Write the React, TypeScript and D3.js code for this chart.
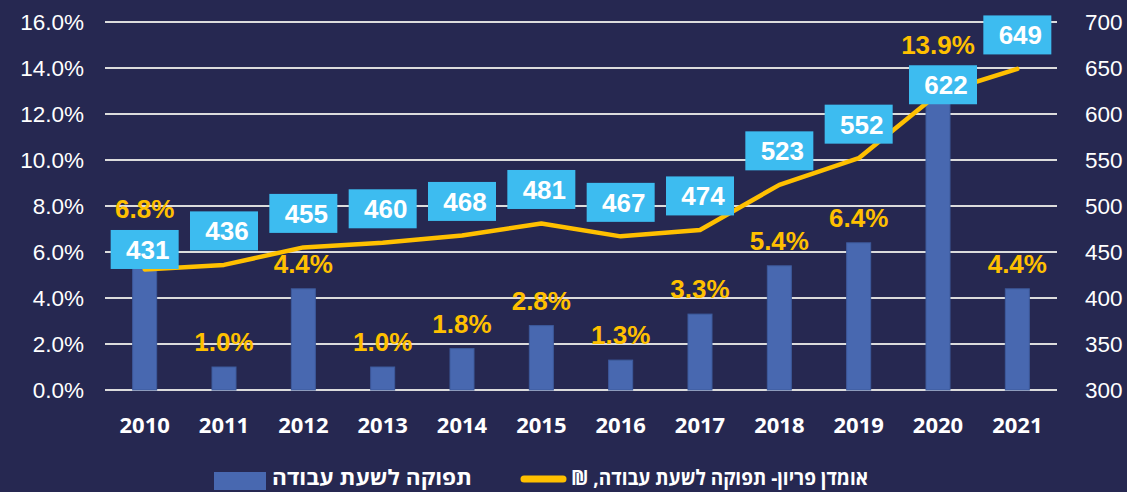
import * as d3 from 'd3';

const years = ['2010', '2011', '2012', '2013', '2014', '2015', '2016', '2017', '2018', '2019', '2020', '2021'];
// growth of output per work hour, %
const growth = [6.8, 1.0, 4.4, 1.0, 1.8, 2.8, 1.3, 3.3, 5.4, 6.4, 13.9, 4.4];
// productivity estimate, ₪ per work hour
const productivity = [431, 436, 455, 460, 468, 481, 467, 474, 523, 552, 622, 649];
const leftTicks = [0, 2, 4, 6, 8, 10, 12, 14, 16];
const rightTicks = [300, 350, 400, 450, 500, 550, 600, 650, 700];
const barLegend = 'תפוקה לשעת עבודה';
const lineLegend = 'אומדן פריון- תפוקה לשעת עבודה, ₪';

const W = 1127;
const H = 492;
const BG = '#262851';
const BAR = '#4868b0';
const GOLD = '#ffc000';
const BOX = '#3dbcf0';

// hand-placed label tweaks from the original
const boxLift: Record<string, number> = { '2010': 20, '2020': 9 };
const boxShift: Record<string, number> = { '2020': 5 };

export default function App() {
  const x = d3.scaleBand().domain(years).range([105, 1057]).padding(0);
  const yL = d3.scaleLinear().domain([0, 16]).range([390, 22]);
  const yR = d3.scaleLinear().domain([300, 700]).range([390, 22]);
  const cx = (d: string) => (x(d) ?? 0) + x.bandwidth() / 2;
  const bw = 24;

  const line = d3
    .line<number>()
    .x((_, i) => cx(years[i]))
    .y((v) => yR(v));

  return (
    <svg width={W} height={H} style={{ position: 'absolute', left: 0, top: 0, display: 'block' }}>
      <rect width={W} height={H} fill={BG} />

      {leftTicks.map((t) => (
        <line key={t} x1={105} x2={1057} y1={yL(t)} y2={yL(t)} stroke="#dcdcdc" strokeWidth={2} />
      ))}

      <g fontFamily="Arial, 'Liberation Sans', sans-serif" fontSize={22.5} fill="#ffffff">
        {leftTicks.map((t) => (
          <text key={t} x={84} y={yL(t)} dy="0.35em" textAnchor="end">
            {d3.format('.1f')(t)}%
          </text>
        ))}
        {rightTicks.map((t) => (
          <text key={t} x={1085} y={yR(t)} dy="0.35em" textAnchor="start">
            {t}
          </text>
        ))}
      </g>

      <g fontFamily="'Open Sans', sans-serif" fontWeight="bold" fontSize={22} fill="#ffffff">
        {years.map((d) => (
          <text key={d} x={cx(d)} y={432.5} textAnchor="middle">
            {d}
          </text>
        ))}
      </g>

      {years.map((d, i) => (
        <rect
          key={d}
          x={cx(d) - bw / 2}
          y={yL(growth[i])}
          width={bw}
          height={yL(0) - yL(growth[i])}
          fill={BAR}
          stroke="#3d5a9c"
          strokeWidth={1}
        />
      ))}

      <path
        d={line(productivity) ?? ''}
        fill="none"
        stroke={GOLD}
        strokeWidth={4.5}
        strokeLinejoin="round"
        strokeLinecap="round"
      />

      <g fontFamily="Arial, 'Liberation Sans', sans-serif" fontWeight="bold" fontSize={26} fill={GOLD}>
        {years.map((d, i) => (
          <text key={d} x={cx(d)} y={yL(growth[i]) - 16} textAnchor="middle">
            {d3.format('.1f')(growth[i])}%
          </text>
        ))}
      </g>

      <g fontFamily="Arial, 'Liberation Sans', sans-serif" fontWeight="bold" fontSize={26} fill="#ffffff">
        {years.map((d, i) => {
          const bx = cx(d) + (boxShift[d] ?? 0);
          const by = yR(productivity[i]) - (boxLift[d] ?? 34);
          return (
            <g key={d}>
              <rect x={bx - 34} y={by - 19.5} width={68} height={39} fill={BOX} />
              <text x={bx + 3} y={by} dy="0.36em" textAnchor="middle">
                {productivity[i]}
              </text>
            </g>
          );
        })}
      </g>

      <g fontFamily="'Open Sans', 'DejaVu Sans', sans-serif" fontWeight="bold" fontSize={21} fill="#ffffff">
        <rect x={214} y={472} width={52} height={18} fill={BAR} />
        <text x={472} y={485} textAnchor="start" direction="rtl" textLength={200} lengthAdjust="spacingAndGlyphs">
          {barLegend}
        </text>
        <line x1={524} x2={563} y1={479} y2={479} stroke={GOLD} strokeWidth={7} strokeLinecap="round" />
        <text x={868} y={485} textAnchor="start" direction="rtl" textLength={297} lengthAdjust="spacingAndGlyphs">
          {lineLegend}
        </text>
      </g>
    </svg>
  );
}
